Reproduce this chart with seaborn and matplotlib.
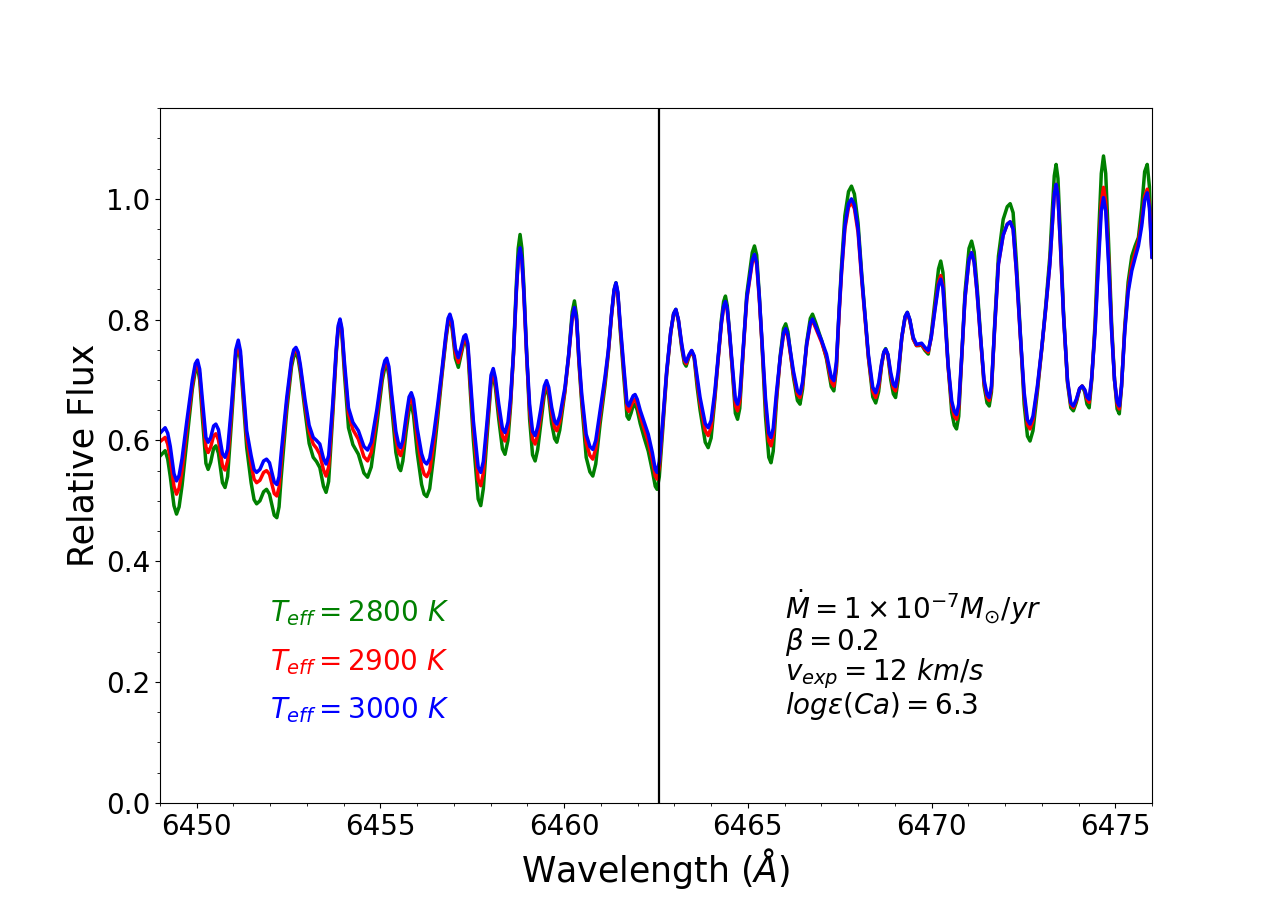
import numpy as np
import pandas as pd
import matplotlib
matplotlib.use("Agg")
import matplotlib.pyplot as plt
from matplotlib.ticker import MultipleLocator
import seaborn as sns

wavelength = [
    6449.00, 6449.14, 6449.21, 6449.28, 6449.38, 6449.45, 6449.52, 6449.60, 6449.73, 6449.88,
    6449.96, 6450.02, 6450.08, 6450.15, 6450.25, 6450.31, 6450.38, 6450.46, 6450.52, 6450.59,
    6450.70, 6450.77, 6450.84, 6450.95, 6451.06, 6451.13, 6451.19, 6451.25, 6451.36, 6451.48,
    6451.56, 6451.63, 6451.72, 6451.82, 6451.90, 6451.98, 6452.11, 6452.18, 6452.24, 6452.30,
    6452.45, 6452.58, 6452.64, 6452.70, 6452.76, 6452.82, 6452.95, 6453.06, 6453.17, 6453.26,
    6453.35, 6453.45, 6453.52, 6453.59, 6453.70, 6453.80, 6453.85, 6453.90, 6453.95, 6454.02,
    6454.13, 6454.25, 6454.40, 6454.55, 6454.65, 6454.75, 6454.90, 6455.05, 6455.12, 6455.17,
    6455.23, 6455.30, 6455.42, 6455.50, 6455.55, 6455.61, 6455.70, 6455.78, 6455.84, 6455.90,
    6456.00, 6456.12, 6456.19, 6456.26, 6456.34, 6456.45, 6456.56, 6456.67, 6456.78, 6456.84,
    6456.89, 6456.95, 6457.04, 6457.12, 6457.20, 6457.27, 6457.32, 6457.38, 6457.45, 6457.53,
    6457.66, 6457.73, 6457.80, 6457.90, 6458.01, 6458.07, 6458.13, 6458.22, 6458.32, 6458.39,
    6458.47, 6458.54, 6458.62, 6458.70, 6458.75, 6458.80, 6458.85, 6458.90, 6458.98, 6459.06,
    6459.14, 6459.21, 6459.28, 6459.36, 6459.46, 6459.52, 6459.58, 6459.66, 6459.74, 6459.80,
    6459.88, 6460.02, 6460.12, 6460.22, 6460.28, 6460.34, 6460.40, 6460.48, 6460.60, 6460.70,
    6460.78, 6460.86, 6460.98, 6461.11, 6461.20, 6461.29, 6461.36, 6461.41, 6461.46, 6461.53,
    6461.61, 6461.71, 6461.76, 6461.82, 6461.88, 6461.93, 6461.99, 6462.07, 6462.18, 6462.29,
    6462.40, 6462.48, 6462.53, 6462.59, 6462.68, 6462.79, 6462.90, 6462.98, 6463.04, 6463.11,
    6463.20, 6463.27, 6463.32, 6463.40, 6463.47, 6463.54, 6463.62, 6463.70, 6463.84, 6463.92,
    6464.00, 6464.10, 6464.20, 6464.28, 6464.34, 6464.39, 6464.44, 6464.50, 6464.56, 6464.66,
    6464.72, 6464.78, 6464.87, 6464.97, 6465.12, 6465.18, 6465.24, 6465.31, 6465.38, 6465.48,
    6465.57, 6465.63, 6465.69, 6465.78, 6465.88, 6465.97, 6466.03, 6466.09, 6466.24, 6466.35,
    6466.42, 6466.49, 6466.60, 6466.70, 6466.76, 6466.84, 6467.01, 6467.14, 6467.27, 6467.34,
    6467.41, 6467.48, 6467.55, 6467.64, 6467.74, 6467.82, 6467.90, 6468.00, 6468.10, 6468.28,
    6468.40, 6468.48, 6468.56, 6468.64, 6468.70, 6468.75, 6468.81, 6468.89, 6468.96, 6469.02,
    6469.09, 6469.19, 6469.28, 6469.34, 6469.41, 6469.50, 6469.59, 6469.66, 6469.73, 6469.82,
    6469.91, 6469.99, 6470.09, 6470.19, 6470.25, 6470.31, 6470.38, 6470.45, 6470.55, 6470.62,
    6470.68, 6470.74, 6470.82, 6470.91, 6471.02, 6471.09, 6471.16, 6471.24, 6471.32, 6471.43,
    6471.51, 6471.57, 6471.63, 6471.72, 6471.82, 6471.95, 6472.06, 6472.14, 6472.22, 6472.31,
    6472.41, 6472.52, 6472.61, 6472.68, 6472.76, 6472.88, 6473.00, 6473.11, 6473.22, 6473.29,
    6473.34, 6473.39, 6473.44, 6473.51, 6473.59, 6473.70, 6473.79, 6473.86, 6473.94, 6474.03,
    6474.10, 6474.17, 6474.23, 6474.29, 6474.36, 6474.45, 6474.54, 6474.62, 6474.68, 6474.74,
    6474.82, 6474.90, 6474.98, 6475.05, 6475.11, 6475.17, 6475.26, 6475.35, 6475.45, 6475.54,
    6475.63, 6475.72, 6475.80, 6475.87, 6475.93, 6476.00,
]

flux_3000 = [
    .612, .621, .612, .590, .545, .533, .542, .570, .632, .700,
    .727, .733, .718, .670, .605, .597, .605, .624, .627, .618,
    .578, .572, .585, .660, .750, .766, .748, .700, .616, .575,
    .552, .547, .552, .566, .569, .563, .531, .527, .540, .580,
    .671, .735, .750, .754, .746, .725, .666, .625, .605, .600,
    .594, .570, .561, .575, .660, .755, .790, .801, .786, .730,
    .654, .630, .616, .590, .584, .597, .650, .715, .732, .736,
    .722, .680, .615, .592, .588, .600, .640, .672, .679, .668,
    .620, .578, .565, .561, .570, .610, .660, .715, .775, .802,
    .809, .797, .752, .737, .755, .772, .775, .760, .700, .632,
    .556, .547, .565, .630, .708, .719, .703, .660, .620, .613,
    .630, .670, .743, .850, .900, .919, .900, .850, .743, .660,
    .615, .608, .622, .650, .690, .699, .688, .655, .632, .627,
    .640, .687, .740, .805, .820, .800, .740, .676, .610, .590,
    .585, .600, .650, .704, .748, .810, .850, .861, .846, .790,
    .732, .662, .657, .666, .674, .676, .668, .650, .630, .610,
    .580, .552, .547, .565, .630, .715, .780, .810, .817, .800,
    .760, .735, .730, .742, .749, .740, .705, .671, .628, .621,
    .633, .680, .743, .795, .822, .830, .818, .780, .737, .668,
    .660, .675, .750, .836, .898, .908, .895, .840, .771, .670,
    .612, .605, .620, .680, .737, .778, .785, .775, .715, .682,
    .677, .697, .759, .795, .801, .790, .765, .743, .705, .699,
    .730, .810, .881, .955, .992, 1.000, .990, .950, .870, .743,
    .688, .679, .695, .728, .746, .751, .743, .712, .693, .689,
    .712, .771, .805, .812, .800, .771, .759, .760, .761, .754,
    .749, .770, .815, .857, .867, .852, .790, .726, .665, .648,
    .643, .660, .740, .836, .900, .911, .895, .845, .781, .700,
    .676, .671, .690, .790, .892, .940, .958, .962, .950, .880,
    .781, .680, .634, .627, .640, .690, .754, .820, .892, .960,
    1.008, 1.024, 1.005, .920, .809, .700, .662, .657, .668, .686,
    .690, .684, .672, .668, .705, .781, .890, .980, 1.002, .980,
    .890, .781, .700, .664, .657, .690, .781, .845, .881, .902,
    .922, .955, .998, 1.010, .985, .903,
]

flux_2900 = [
    .598, .605, .594, .570, .524, .511, .521, .550, .620, .692,
    .722, .729, .710, .655, .589, .580, .589, .608, .611, .601,
    .558, .551, .566, .650, .742, .759, .740, .690, .605, .560,
    .536, .530, .534, .547, .550, .544, .512, .508, .522, .565,
    .662, .730, .746, .751, .742, .720, .658, .615, .594, .587,
    .577, .551, .541, .556, .650, .750, .786, .798, .781, .722,
    .644, .618, .602, .573, .566, .580, .640, .709, .728, .732,
    .716, .672, .603, .579, .575, .588, .630, .663, .670, .657,
    .605, .558, .544, .540, .550, .595, .650, .710, .770, .796,
    .803, .790, .744, .729, .748, .767, .770, .754, .690, .620,
    .535, .525, .546, .620, .700, .712, .695, .650, .607, .599,
    .618, .662, .740, .846, .897, .917, .897, .845, .738, .650,
    .602, .594, .609, .640, .683, .693, .681, .645, .621, .616,
    .631, .682, .737, .803, .819, .797, .734, .668, .596, .575,
    .569, .586, .641, .698, .745, .807, .847, .858, .842, .785,
    .725, .653, .648, .657, .666, .668, .659, .640, .619, .598,
    .568, .541, .536, .555, .624, .712, .778, .809, .816, .799,
    .757, .732, .727, .740, .748, .738, .698, .662, .616, .608,
    .621, .673, .740, .793, .820, .828, .815, .776, .732, .658,
    .649, .665, .744, .833, .895, .905, .891, .835, .765, .660,
    .599, .591, .607, .672, .735, .775, .782, .771, .710, .676,
    .671, .692, .757, .792, .798, .787, .762, .738, .697, .690,
    .722, .805, .877, .950, .986, .994, .984, .944, .865, .738,
    .681, .671, .688, .725, .745, .750, .741, .707, .687, .682,
    .708, .770, .804, .811, .798, .768, .757, .758, .759, .751,
    .746, .770, .818, .862, .873, .857, .792, .722, .658, .640,
    .635, .653, .736, .835, .900, .911, .895, .843, .778, .695,
    .671, .666, .686, .788, .892, .940, .958, .962, .950, .878,
    .778, .674, .626, .619, .633, .686, .752, .819, .892, .960,
    1.008, 1.024, 1.005, .919, .808, .698, .659, .654, .666, .686,
    .690, .683, .668, .663, .703, .785, .900, .995, 1.019, .995,
    .900, .785, .700, .660, .652, .690, .785, .850, .890, .910,
    .930, .962, 1.004, 1.016, .990, .905,
]

flux_2800 = [
    .574, .583, .569, .540, .492, .478, .490, .525, .600, .685,
    .715, .722, .700, .640, .562, .552, .564, .587, .591, .579,
    .530, .522, .540, .635, .736, .754, .733, .680, .588, .530,
    .502, .495, .500, .515, .519, .511, .476, .472, .490, .540,
    .649, .722, .739, .745, .735, .712, .647, .595, .572, .565,
    .555, .524, .514, .532, .640, .746, .783, .796, .777, .710,
    .621, .593, .577, .546, .539, .556, .625, .700, .721, .726,
    .708, .660, .580, .555, .550, .566, .615, .651, .659, .642,
    .580, .527, .511, .507, .520, .575, .638, .705, .766, .793,
    .800, .786, .736, .721, .743, .763, .767, .749, .677, .600,
    .503, .492, .520, .605, .694, .707, .687, .635, .586, .577,
    .600, .655, .745, .860, .918, .941, .918, .860, .745, .635,
    .576, .566, .585, .625, .676, .687, .673, .628, .603, .597,
    .617, .680, .740, .813, .831, .806, .731, .660, .572, .548,
    .541, .561, .628, .690, .742, .808, .849, .861, .844, .780,
    .715, .640, .635, .645, .658, .660, .650, .628, .604, .582,
    .550, .524, .519, .540, .615, .710, .778, .810, .817, .798,
    .753, .728, .723, .739, .748, .736, .688, .650, .597, .588,
    .604, .667, .742, .800, .830, .839, .823, .779, .730, .645,
    .635, .653, .745, .842, .911, .922, .907, .842, .765, .640,
    .572, .563, .582, .665, .740, .785, .793, .780, .705, .666,
    .660, .685, .762, .802, .809, .796, .765, .735, .689, .682,
    .718, .812, .890, .972, 1.012, 1.021, 1.008, .960, .875, .738,
    .672, .662, .681, .724, .746, .752, .742, .700, .677, .671,
    .700, .771, .805, .812, .799, .768, .757, .757, .758, .749,
    .743, .775, .830, .884, .897, .878, .803, .725, .646, .625,
    .619, .640, .738, .845, .918, .930, .912, .855, .785, .690,
    .662, .657, .680, .795, .905, .966, .987, .992, .977, .895,
    .785, .660, .607, .599, .616, .680, .752, .825, .905, .985,
    1.038, 1.057, 1.034, .935, .815, .695, .654, .649, .663, .685,
    .690, .680, .660, .654, .700, .795, .930, 1.042, 1.071, 1.042,
    .925, .795, .700, .652, .644, .688, .790, .862, .905, .922,
    .936, .985, 1.045, 1.057, 1.020, .905,
]

series_labels = ["$T_{eff} = 2800\\ K$", "$T_{eff} = 2900\\ K$", "$T_{eff} = 3000\\ K$"]
series_colors = ["green", "red", "blue"]
ca_line = 6462.57

assert len(wavelength) == len(flux_3000) == len(flux_2900) == len(flux_2800)

df = pd.concat([
    pd.DataFrame({"wavelength": wavelength, "flux": f, "model": lab})
    for f, lab in zip([flux_2800, flux_2900, flux_3000], series_labels)
], ignore_index=True)

fig, ax = plt.subplots(figsize=(12.8, 9.02), dpi=100)
sns.lineplot(data=df, x="wavelength", y="flux", hue="model",
             palette=series_colors, hue_order=series_labels,
             linewidth=2.5, legend=False, ax=ax, sort=False, estimator=None)
for ln in ax.get_lines():
    ln.set_solid_joinstyle("round")

ax.axvline(ca_line, color="black", linewidth=1.6)

ax.set_xlim(6449, 6476)
ax.set_ylim(0, 1.15)
ax.xaxis.set_major_locator(MultipleLocator(5))
ax.xaxis.set_minor_locator(MultipleLocator(1))
ax.yaxis.set_major_locator(MultipleLocator(0.2))
ax.yaxis.set_minor_locator(MultipleLocator(0.05))
ax.tick_params(axis="both", which="major", labelsize=20)
ax.set_xlabel("Wavelength ($\\AA$)", fontsize=25)
ax.set_ylabel("Relative Flux", fontsize=25)

for lab, col, yy in zip(series_labels, series_colors, [0.30, 0.22, 0.14]):
    ax.text(6452.0, yy, lab, color=col, fontsize=20)

info = ("$\\dot{M} = 1\\times10^{-7} M_{\\odot}/yr$\n"
        "$\\beta = 0.2$\n"
        "$v_{exp} = 12\\ km/s$\n"
        "$log\\epsilon(Ca) = 6.3$")
ax.text(6466.0, 0.147, info, fontsize=20, color="black", va="baseline", linespacing=0.95)

fig.savefig("out.png", dpi=100)
